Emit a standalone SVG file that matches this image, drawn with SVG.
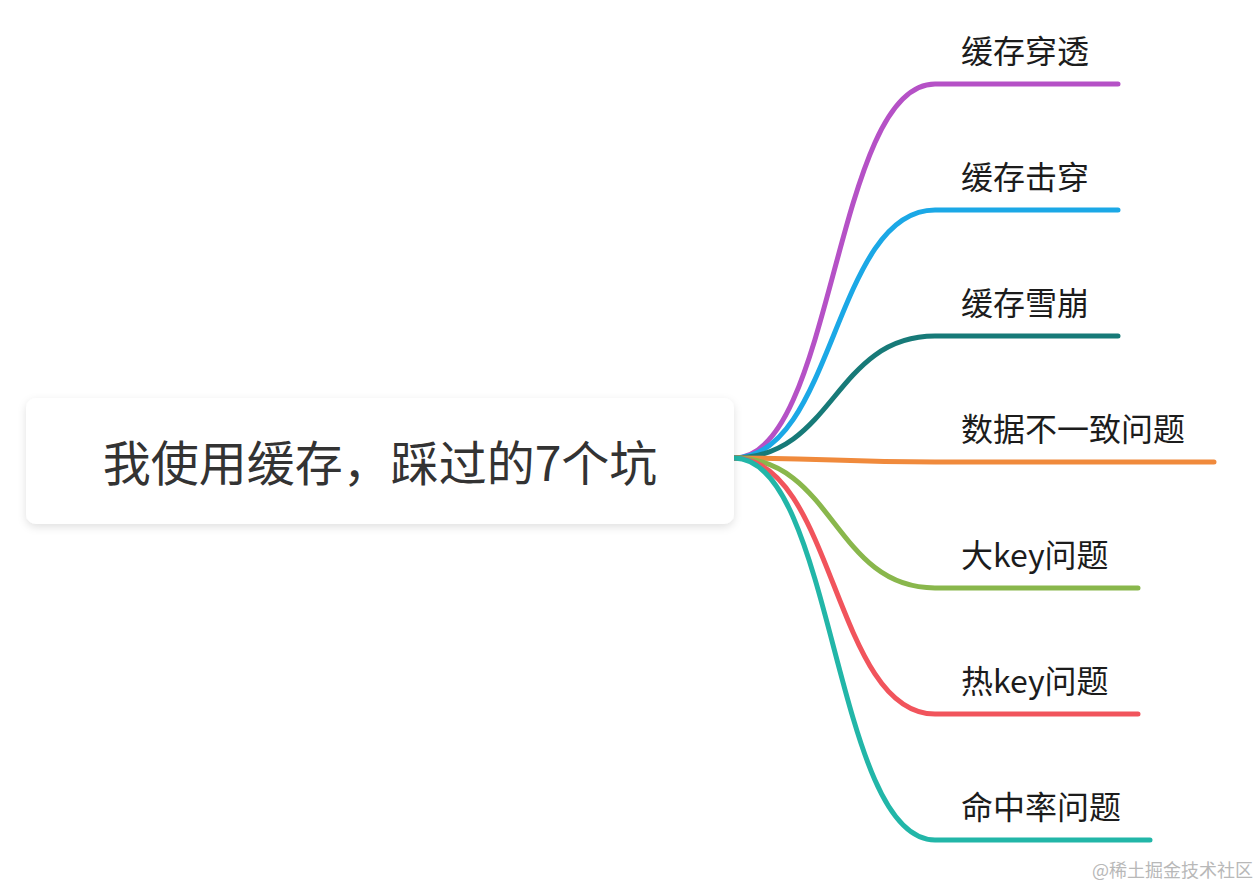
<svg xmlns="http://www.w3.org/2000/svg" width="1260" height="888" viewBox="0 0 1260 888">
<defs>
<filter id="sh" x="-5%" y="-20%" width="110%" height="150%">
<feDropShadow dx="0" dy="3" stdDeviation="4" flood-color="#000" flood-opacity="0.12"/>
</filter>
<style>
.e{fill:none;stroke-width:5;stroke-linecap:round}
.t{font-family:"Noto Sans CJK SC","Noto Sans",sans-serif;font-size:32px;fill:#1c1c1c}
.r{font-family:"Noto Sans CJK SC","Noto Sans",sans-serif;font-size:48px;fill:#333}
.w{font-family:"Noto Sans CJK SC",sans-serif;font-size:18px;fill:#b8b8b8}
</style>
</defs>
<rect width="1260" height="888" fill="#fff"/>
<g id="edges">
<path class="e" stroke="#b551c6" d="M734,458 C834,458 834,84 935,84 L1118,84"/>
<path class="e" stroke="#1ba8e6" d="M734,458 C834,458 834,210 935,210 L1118,210"/>
<path class="e" stroke="#177a78" d="M734,458 C834,458 834,336 935,336 L1118,336"/>
<path class="e" stroke="#f08a3c" d="M734,458 C834,458 834,462 935,462 L1214,462"/>
<path class="e" stroke="#89b74c" d="M734,458 C834,458 834,588 935,588 L1138,588"/>
<path class="e" stroke="#f1545c" d="M734,458 C834,458 834,714 935,714 L1138,714"/>
<path class="e" stroke="#22b6a8" d="M734,458 C834,458 834,840 935,840 L1150,840"/>
</g>
<g id="root">
<rect x="26" y="398" width="708" height="126" rx="10" fill="#fff" filter="url(#sh)"/>
<text class="r" x="380" y="481" text-anchor="middle">我使用缓存，踩过的7个坑</text>
</g>
<g id="n1"><text class="t" x="961" y="63">缓存穿透</text></g>
<g id="n2"><text class="t" x="961" y="189">缓存击穿</text></g>
<g id="n3"><text class="t" x="961" y="315">缓存雪崩</text></g>
<g id="n4"><text class="t" x="961" y="441">数据不一致问题</text></g>
<g id="n5"><text class="t" x="961" y="567">大key问题</text></g>
<g id="n6"><text class="t" x="961" y="693">热key问题</text></g>
<g id="n7"><text class="t" x="961" y="819">命中率问题</text></g>
<text class="w" x="1253" y="877" text-anchor="end">@稀土掘金技术社区</text>
</svg>
